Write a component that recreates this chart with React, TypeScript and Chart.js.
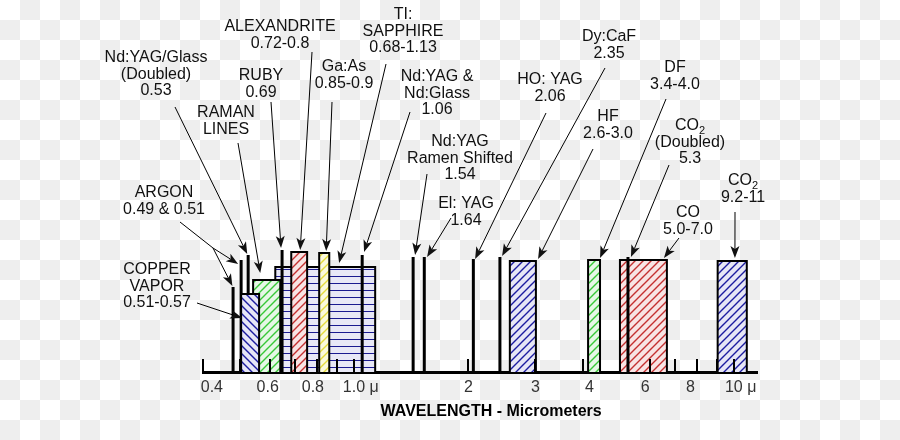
import React, { useEffect, useRef } from 'react';
import { Chart, registerables } from 'chart.js';

Chart.register(...registerables);

// ---------------- data ----------------
const TICK_VALUES = [0.4, 0.6, 0.8, 1, 2, 3, 4, 6, 8, 10];
const TICK_LABELS = ['    0.4', '0.6 ', '0.8  ', '   1.0 μ', '2', '3', '   4', '6  ', '8   ', '   10 μ'];
const MINOR_TICKS = [0.4, 0.5, 0.6, 0.7, 0.8, 0.9, 1, 2, 3, 4, 5, 6, 7, 8, 9, 10];
const X_TITLE = 'WAVELENGTH - Micrometers';

// single-wavelength lasers (thick black lines)
const LINE_NAMES = ['Argon 0.49', 'Argon 0.51', 'Nd:YAG/Glass doubled', 'Ruby', 'Nd:YAG & Nd:Glass', 'Nd:YAG Raman shifted', 'El:YAG', 'HO:YAG', 'Dy:CaF', 'CO2 doubled'];
const LINE_WAVELENGTHS = [0.48, 0.504, 0.526, 0.646, 1.05, 1.43, 1.53, 2.06, 2.42, 5.26];
const LINE_HEIGHTS = [85, 112, 117, 122, 117, 115, 115, 113, 115, 115];

// tunable / band lasers (hatched boxes)
const BAND_NAMES = ['Copper vapor', 'Raman lines', 'Ti:Sapphire', 'Alexandrite', 'Ga:As', 'HF', 'DF', 'CO', 'CO2'];
const BAND_START = [0.504, 0.542, 0.62, 0.683, 0.809, 2.57, 4.13, 5.01, 9.06];
const BAND_END = [0.562, 0.639, 1.136, 0.752, 0.86, 3.01, 4.44, 6.66, 10.81];
const BAND_HEIGHTS = [78, 92, 105, 120, 119, 111, 112, 112, 111];

// styles of the bands (pattern key, draw order: higher = drawn first)
const BAND_PATTERN = ['blueBack', 'green', 'rows', 'red', 'yellow', 'blue', 'green', 'red', 'blue'];
const BAND_ORDER = [2, 5, 6, 2, 2, 2, 2, 4, 2];

// annotations: text lines, label centre (px), leader start (px), arrow tips (wavelength, height)
type Ann = { lines: string[]; at: [number, number]; from: [number, number]; via?: [number, number]; tips: [number, number][] };
const LABELS: Ann[] = [
  { lines: ['Nd:YAG/Glass', '(Doubled)', '0.53'], at: [156, 58], from: [175, 107], tips: [[0.523, 118]] },
  { lines: ['ALEXANDRITE', '0.72-0.8'], at: [280, 27], from: [312, 52], tips: [[0.721, 122]] },
  { lines: ['TI:', 'SAPPHIRE', '0.68-1.13'], at: [403, 15], from: [386, 64], tips: [[0.913, 109]] },
  { lines: ['RUBY', '0.69'], at: [261, 76], from: [271, 102], tips: [[0.642, 124]] },
  { lines: ['Ga:As', '0.85-0.9'], at: [344, 67], from: [332, 102], tips: [[0.844, 121]] },
  { lines: ['RAMAN', 'LINES'], at: [226, 113], from: [238, 143], tips: [[0.566, 99]] },
  { lines: ['Nd:YAG &', 'Nd:Glass', '1.06'], at: [437, 77], from: [410, 112], tips: [[1.062, 120]] },
  { lines: ['ARGON', '0.49 & 0.51'], at: [164, 193], from: [180, 222], via: [213, 248], tips: [[0.495, 108], [0.478, 86]] },
  { lines: ['COPPER', 'VAPOR', '0.51-0.57'], at: [157, 270], from: [197, 303], tips: [[0.507, 54]] },
  { lines: ['Nd:YAG', 'Ramen Shifted', '1.54'], at: [460, 142], from: [427, 174], tips: [[1.447, 117]] },
  { lines: ['El: YAG', '1.64'], at: [466, 204], from: [451, 218], tips: [[1.556, 115]] },
  { lines: ['HO: YAG', '2.06'], at: [550, 80], from: [546, 113], tips: [[2.082, 113]] },
  { lines: ['Dy:CaF', '2.35'], at: [609, 37], from: [605, 68], tips: [[2.452, 116]] },
  { lines: ['HF', '2.6-3.0'], at: [608, 117], from: [593, 149], tips: [[3.05, 113]] },
  { lines: ['DF', '3.4-4.0'], at: [675, 68], from: [666, 99], tips: [[4.441, 114]] },
  { lines: ['CO_2', '(Doubled)', '5.3'], at: [690, 126], from: [669, 165], tips: [[5.356, 115]] },
  { lines: ['CO', '5.0-7.0'], at: [688, 213], from: [679, 238], tips: [[6.542, 114]] },
  { lines: ['CO_2', '9.2-11'], at: [743, 181], from: [735, 212], tips: [[10.06, 114]] },
];

// ---------------- helpers ----------------
const FONT_FAMILY = '"Liberation Sans", Arial, sans-serif';
const LINE_H = 16.5;

function makeHatch(ctx: CanvasRenderingContext2D, bg: string, fg: string, dir: '/' | '\\') {
  const s = 8;
  const c = document.createElement('canvas');
  c.width = s; c.height = s;
  const g = c.getContext('2d')!;
  g.fillStyle = bg; g.fillRect(0, 0, s, s);
  g.strokeStyle = fg; g.lineWidth = 1.4;
  g.beginPath();
  if (dir === '/') {
    g.moveTo(-1, s + 1); g.lineTo(s + 1, -1);
    g.moveTo(-2, 2); g.lineTo(2, -2);
    g.moveTo(s - 2, s + 2); g.lineTo(s + 2, s - 2);
  } else {
    g.moveTo(-1, -1); g.lineTo(s + 1, s + 1);
    g.moveTo(s - 2, -2); g.lineTo(s + 2, 2);
    g.moveTo(-2, s - 2); g.lineTo(2, s + 2);
  }
  g.stroke();
  return ctx.createPattern(c, 'repeat')!;
}

function makeRows(ctx: CanvasRenderingContext2D, bg: string, fg: string) {
  const c = document.createElement('canvas');
  c.width = 8; c.height = 7;
  const g = c.getContext('2d')!;
  g.fillStyle = bg; g.fillRect(0, 0, 8, 7);
  g.fillStyle = fg; g.fillRect(0, 3, 8, 1);
  return ctx.createPattern(c, 'repeat')!;
}

function drawTextLine(ctx: CanvasRenderingContext2D, text: string, cx: number, cy: number) {
  if (text.includes('_')) {
    const [main, sub] = text.split('_');
    ctx.font = `16px ${FONT_FAMILY}`;
    const w1 = ctx.measureText(main).width;
    ctx.font = `11px ${FONT_FAMILY}`;
    const w2 = ctx.measureText(sub).width;
    const left = cx - (w1 + w2) / 2;
    ctx.textAlign = 'left';
    ctx.font = `16px ${FONT_FAMILY}`;
    ctx.fillText(main, left, cy);
    ctx.font = `11px ${FONT_FAMILY}`;
    ctx.fillText(sub, left + w1, cy + 5);
    ctx.font = `16px ${FONT_FAMILY}`;
    ctx.textAlign = 'center';
  } else {
    ctx.fillText(text, cx, cy);
  }
}

function drawArrow(ctx: CanvasRenderingContext2D, sx: number, sy: number, tx: number, ty: number) {
  const dx = tx - sx, dy = ty - sy;
  const len = Math.hypot(dx, dy) || 1;
  const ux = dx / len, uy = dy / len;
  const nx = -uy, ny = ux;
  const L = 12, W = 4.5, N = 3;
  ctx.beginPath();
  ctx.moveTo(sx, sy);
  ctx.lineTo(tx - ux * (L - N), ty - uy * (L - N));
  ctx.stroke();
  ctx.beginPath();
  ctx.moveTo(tx, ty);
  ctx.lineTo(tx - ux * L + nx * W, ty - uy * L + ny * W);
  ctx.lineTo(tx - ux * (L - N), ty - uy * (L - N));
  ctx.lineTo(tx - ux * L - nx * W, ty - uy * L - ny * W);
  ctx.closePath();
  ctx.fill();
}

const backgroundPlugin = {
  id: 'checker',
  beforeDraw(chart: any) {
    const { ctx, width, height } = chart;
    ctx.save();
    ctx.fillStyle = '#ffffff';
    ctx.fillRect(0, 0, width, height);
    ctx.fillStyle = '#eeeeee';
    for (let i = 0; i * 20 < width; i++) {
      for (let j = 0; j * 20 < height; j++) {
        if ((i + j) % 2 === 1) ctx.fillRect(i * 20, j * 20, 20, 20);
      }
    }
    ctx.restore();
  },
};

const minorTickPlugin = {
  id: 'minorTicks',
  afterDatasetsDraw(chart: any) {
    const { ctx, scales } = chart;
    const x = scales.x, y = scales.y;
    const base = y.getPixelForValue(0);
    ctx.save();
    ctx.strokeStyle = '#000';
    ctx.lineWidth = 2;
    ctx.beginPath();
    for (const v of MINOR_TICKS) {
      const px = Math.round(x.getPixelForValue(v));
      ctx.moveTo(px, base);
      ctx.lineTo(px, base - 13);
    }
    ctx.stroke();
    ctx.restore();
  },
};

const labelPlugin = {
  id: 'laserLabels',
  afterDraw(chart: any) {
    const { ctx, scales } = chart;
    const x = scales.x, y = scales.y;
    ctx.save();
    ctx.font = `16px ${FONT_FAMILY}`;
    ctx.fillStyle = '#111';
    ctx.strokeStyle = '#000';
    ctx.lineWidth = 1;
    ctx.textAlign = 'center';
    ctx.textBaseline = 'middle';
    for (const a of LABELS) {
      a.lines.forEach((ln, i) => drawTextLine(ctx, ln, a.at[0], a.at[1] + i * LINE_H));
      let sx = a.from[0], sy = a.from[1];
      if (a.via) {
        ctx.beginPath();
        ctx.moveTo(sx, sy);
        ctx.lineTo(a.via[0], a.via[1]);
        ctx.stroke();
        sx = a.via[0]; sy = a.via[1];
      }
      for (const t of a.tips) {
        drawArrow(ctx, sx, sy, x.getPixelForValue(t[0]), y.getPixelForValue(t[1]));
      }
    }
    ctx.restore();
  },
};

export default function App() {
  const ref = useRef<HTMLCanvasElement>(null);

  useEffect(() => {
    const canvas = ref.current!;
    const ctx = canvas.getContext('2d')!;
    const patterns: Record<string, CanvasPattern> = {
      blue: makeHatch(ctx, '#e6e6f6', '#1c1ca0', '/'),
      blueBack: makeHatch(ctx, '#e6e6f6', '#1c1ca0', '\\'),
      green: makeHatch(ctx, '#e6f7e6', '#38c838', '/'),
      red: makeHatch(ctx, '#f8e4e4', '#c43030', '/'),
      yellow: makeHatch(ctx, '#fcfadc', '#e6dc3c', '/'),
      rows: makeRows(ctx, '#e8e8f6', '#1a1a90'),
    };

    const datasets: any[] = [];
    BAND_NAMES.forEach((name, i) => {
      datasets.push({
        label: name,
        data: [
          { x: BAND_START[i], y: 0 },
          { x: BAND_START[i], y: BAND_HEIGHTS[i] },
          { x: BAND_END[i], y: BAND_HEIGHTS[i] },
          { x: BAND_END[i], y: 0 },
        ],
        borderColor: '#000',
        borderWidth: 2,
        borderJoinStyle: 'miter',
        backgroundColor: patterns[BAND_PATTERN[i]],
        fill: 'origin',
        pointRadius: 0,
        tension: 0,
        order: BAND_ORDER[i],
      });
    });
    LINE_NAMES.forEach((name, i) => {
      datasets.push({
        label: name,
        data: [
          { x: LINE_WAVELENGTHS[i], y: 0 },
          { x: LINE_WAVELENGTHS[i], y: LINE_HEIGHTS[i] },
        ],
        borderColor: '#000',
        borderWidth: 3,
        borderCapStyle: 'butt',
        fill: false,
        pointRadius: 0,
        order: 3,
      });
    });

    const chart = new Chart(canvas, {
      type: 'line',
      data: { datasets },
      options: {
        animation: false,
        responsive: false,
        events: [],
        layout: { padding: { left: 203, right: 143, top: 2, bottom: 20.8 } },
        plugins: {
          legend: { display: false },
          tooltip: { enabled: false },
        },
        scales: {
          x: {
            type: 'logarithmic',
            min: 0.4,
            max: 11.5,
            bounds: 'data',
            z: 1,
            grid: { display: false, drawTicks: false },
            border: { display: true, color: '#000', width: 3 },
            afterBuildTicks: (scale: any) => {
              scale.ticks = TICK_VALUES.map((v) => ({ value: v }));
            },
            ticks: {
              autoSkip: false,
              maxRotation: 0,
              minRotation: 0,
              padding: 6,
              color: '#333',
              font: { family: FONT_FAMILY, size: 16 },
              callback: (_v: any, i: number) => TICK_LABELS[i],
            },
            title: {
              display: true,
              text: '     ' + X_TITLE,
              color: '#000',
              font: { family: FONT_FAMILY, size: 16, weight: 'bold', lineHeight: 1 },
              padding: { top: 0, bottom: 0 },
            },
          } as any,
          y: {
            type: 'linear',
            display: false,
            min: 0,
            max: 370,
          },
        },
      },
      plugins: [backgroundPlugin, minorTickPlugin, labelPlugin],
    });
    return () => chart.destroy();
  }, []);

  return (
    <canvas
      ref={ref}
      width={900}
      height={440}
      style={{ position: 'fixed', left: 0, top: 0, display: 'block' }}
    />
  );
}
